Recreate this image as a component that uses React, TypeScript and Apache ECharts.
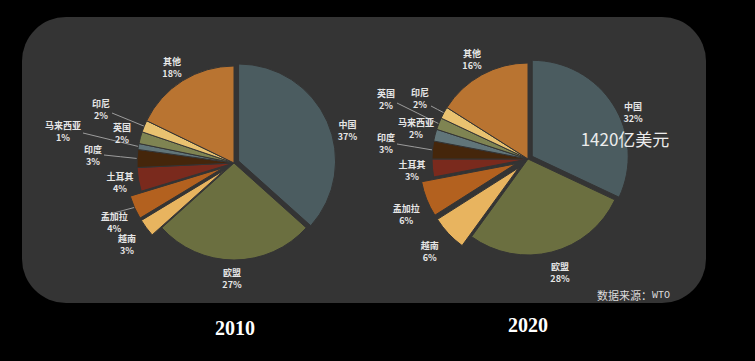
import React, { useEffect, useRef } from 'react';
import * as echarts from 'echarts';

const categories = ['中国', '欧盟', '越南', '孟加拉', '土耳其', '印度', '马来西亚', '英国', '印尼', '其他'];
const share2010 = [37, 27, 3, 4, 4, 3, 1, 2, 2, 18];
const share2020 = [32, 28, 6, 6, 3, 3, 2, 2, 2, 16];
const years = ['2010', '2020'];
const annotation = '1420亿美元';
const sourceLabel = '数据来源：';
const sourceName = 'WTO';

const colors = ['#4b5c60', '#6b6f40', '#e8b45f', '#b3611f', '#7a2a1d', '#45260b', '#617579', '#7f8452', '#e9c270', '#b97431'];
const lightExplode = ['中国'];
const strongExplode = ['越南', '孟加拉'];

// label placement (center x, top y) for each pie
const labelPos2010: Record<string, [number, number]> = {
  '中国': [344, 103], '欧盟': [232, 266], '越南': [128, 227], '孟加拉': [102, 208], '土耳其': [120, 170],
  '印度': [93, 143], '马来西亚': [63, 119], '英国': [122, 121], '印尼': [101, 97], '其他': [172, 55],
};
const labelPos2020: Record<string, [number, number]> = {
  '中国': [628, 83], '欧盟': [560, 260], '越南': [433, 240], '孟加拉': [407, 197], '土耳其': [412, 158],
  '印度': [386, 131], '马来西亚': [416, 116], '英国': [386, 87], '印尼': [420, 86], '其他': [472, 47],
};
const leader2010: Record<string, number> = { '印尼': 16, '马来西亚': 14, '印度': 12, '孟加拉': 2 };
const leader2020: Record<string, number> = { '英国': 16, '印尼': 20, '印度': 13 };

const FONT = '"Noto Sans CJK SC", "Noto Sans", sans-serif';

function makeLayout(pos: Record<string, [number, number]>, leader: Record<string, number>) {
  return (params: any) => {
    const name = categories[params.dataIndex];
    const p = pos[name];
    if (!p) return {};
    const out: any = { x: p[0], y: p[1], align: 'center', verticalAlign: 'top' };
    if (leader[name] != null && params.labelLinePoints && params.labelLinePoints.length) {
      const anchor = params.labelLinePoints[0];
      const w = params.labelRect ? params.labelRect.width : 24;
      const start = [p[0] + w / 2 + 2, p[1] + leader[name]];
      const mid = [(start[0] + anchor[0]) / 2, (start[1] + anchor[1]) / 2];
      out.labelLinePoints = [anchor, mid, start];
    }
    return out;
  };
}

function pieSeries(values: number[], center: number[], radius: number, offset: number, members: string[],
  pos: Record<string, [number, number]>, leader: Record<string, number>, selectedNames: string[]) {
  return {
    type: 'pie',
    center,
    radius,
    startAngle: 90,
    clockwise: true,
    selectedMode: 'multiple',
    selectedOffset: offset,
    avoidLabelOverlap: false,
    silent: true,
    emphasis: { disabled: true },
    label: {
      show: true, position: 'outside', formatter: '{b}\n{c}%', color: '#e6e6e6',
      fontSize: 9, fontWeight: 'bold', lineHeight: 12, fontFamily: FONT,
    },
    labelLine: { show: false, length: 8, length2: 8, lineStyle: { color: '#9c9c9c', width: 1 } },
    labelLayout: makeLayout(pos, leader),
    data: categories.map((name, i) => {
      if (!members.includes(name)) {
        return {
          name, value: values[i],
          itemStyle: { color: 'rgba(0,0,0,0)', borderWidth: 0 },
          label: { show: false }, labelLine: { show: false },
        };
      }
      return {
        name, value: values[i],
        selected: selectedNames.includes(name),
        itemStyle: { color: colors[i], borderColor: '#343434', borderWidth: 1 },
        select: { itemStyle: { color: colors[i], borderColor: '#343434', borderWidth: 1 } },
        labelLine: { show: leader[name] != null },
      };
    }),
  };
}

export default function App() {
  const ref = useRef<HTMLDivElement>(null);
  useEffect(() => {
    document.body.style.margin = '0';
    document.body.style.background = '#000';
    if (!ref.current) return;
    const chart = echarts.init(ref.current, undefined, { renderer: 'svg' });
    const baseMembers = categories.filter((c) => !strongExplode.includes(c));
    chart.setOption({
      animation: false,
      backgroundColor: '#000',
      graphic: [
        { type: 'rect', z: 0, shape: { x: 22, y: 17, width: 684, height: 286, r: 44 }, style: { fill: '#343434' } },
        { type: 'text', z: 100, x: 625, y: 138, style: { text: annotation, fill: '#ececec', fontSize: 17, fontFamily: FONT, align: 'center', verticalAlign: 'middle' } },
        {
          type: 'text', z: 100, x: 597, y: 295,
          style: {
            text: `{a|${sourceLabel}}{b|${sourceName}}`, align: 'left', verticalAlign: 'middle',
            rich: {
              a: { fill: '#dcdcdc', fontSize: 11, fontFamily: FONT },
              b: { fill: '#dcdcdc', fontSize: 10, fontFamily: '"Liberation Mono", "DejaVu Sans Mono", monospace' },
            },
          },
        },
        { type: 'text', z: 100, x: 235, y: 328, style: { text: years[0], fill: '#ffffff', fontSize: 20, fontWeight: 'bold', fontFamily: '"Liberation Serif", serif', align: 'center', verticalAlign: 'middle' } },
        { type: 'text', z: 100, x: 528, y: 325, style: { text: years[1], fill: '#ffffff', fontSize: 20, fontWeight: 'bold', fontFamily: '"Liberation Serif", serif', align: 'center', verticalAlign: 'middle' } },
      ],
      series: [
        pieSeries(share2010, [234, 163], 97, 5, baseMembers, labelPos2010, leader2010, lightExplode),
        pieSeries(share2010, [234, 163], 97, 12, strongExplode, labelPos2010, leader2010, strongExplode),
        pieSeries(share2020, [528, 159], 96, 5, baseMembers, labelPos2020, leader2020, lightExplode),
        pieSeries(share2020, [528, 159], 96, 13, strongExplode, labelPos2020, leader2020, strongExplode),
      ],
    });
    return () => chart.dispose();
  }, []);
  return <div ref={ref} style={{ width: 755, height: 361 }} />;
}
